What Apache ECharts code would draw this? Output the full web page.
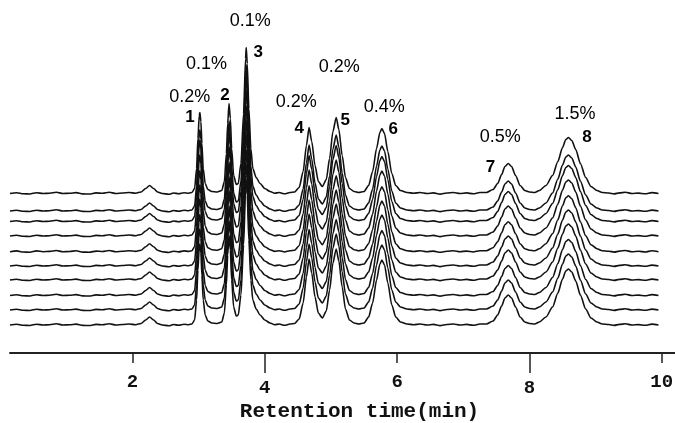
<!DOCTYPE html>
<html>
<head>
<meta charset="utf-8">
<script src="https://cdn.jsdelivr.net/npm/echarts@6/dist/echarts.min.js"></script>
<style>html,body{margin:0;padding:0;background:#fff}#c{width:675px;height:423px}</style>
</head>
<body>
<div id="c"></div>
<script>
// Chromatogram profile of one run: [retention time (min), signal above its baseline]
const profile = [
  [0.15,0],[0.25,0.8],[0.35,-0.3],[0.45,-0.5],[0.55,0.8],[0.65,0],[0.75,0.3],[0.85,1.2],[0.95,0],[1.05,0.2],
  [1.15,0.9],[1.25,-0.4],[1.35,-0.5],[1.45,0.6],[1.55,0.2],[1.65,1.2],[1.75,0],[1.85,0.5],[1.95,1],[2.05,0.3],
  [2.13,1.5],[2.2,5],[2.26,8],[2.32,5],[2.38,1.5],[2.45,0],
  [2.55,-0.8],[2.62,0.5],[2.7,-0.2],[2.78,0.8],[2.85,0.3],
  [2.90,1],[2.94,5],[2.97,25],[2.99,55],[3.01,78],[3.02,81],[3.035,72],[3.05,50],[3.07,25],[3.10,10],
  [3.14,4],[3.20,2],[3.28,1.5],[3.35,3],
  [3.39,12],[3.42,40],[3.44,70],[3.46,90],[3.48,75],[3.50,45],[3.53,18],[3.57,9],
  [3.60,10],[3.64,30],[3.68,80],[3.71,135],[3.72,146],[3.735,130],[3.76,85],[3.79,45],[3.82,25],
  [3.87,16],[3.93,10],[4.0,5],[4.08,2],[4.15,0.3],[4.22,1],[4.3,-0.3],[4.38,1],
  [4.45,1.5],[4.52,6],[4.58,22],[4.63,48],[4.67,66],[4.71,52],[4.76,28],[4.81,12],[4.87,7],
  [4.93,14],[4.98,35],[5.03,62],[5.08,76],[5.12,64],[5.17,38],[5.22,16],[5.28,5],[5.35,2],[5.42,1],
  [5.50,2],[5.57,8],[5.63,22],[5.69,45],[5.74,61],[5.77,65],[5.81,60],[5.86,42],[5.92,20],[5.98,8],
  [6.05,3],[6.15,1],[6.25,0.2],[6.35,1],[6.45,0],[6.55,0.6],[6.65,-0.6],[6.75,0.5],[6.85,1],[6.95,0],
  [7.05,0.6],[7.15,-0.3],[7.25,1],
  [7.35,1],[7.45,4],[7.52,10],[7.58,19],[7.63,27],[7.68,30],[7.73,27],[7.79,18],[7.86,8],[7.93,3],[8.0,1.5],
  [8.08,1],[8.15,3],[8.25,8],[8.35,18],[8.43,32],[8.5,46],[8.55,54],[8.59,56],[8.64,53],[8.7,44],
  [8.77,30],[8.85,16],[8.93,7],[9.02,3],[9.1,1],[9.2,0.5],[9.28,-0.4],[9.36,0.6],[9.45,1.2],[9.55,0],
  [9.65,0.4],[9.75,-0.3],[9.85,0.9],[9.95,0]
];
// Baseline of each of the 10 stacked runs (top to bottom)
const baselines = [159.5, 142, 131.5, 117, 101.3, 87, 73, 57.5, 43, 28];
// Tick labels
const ticksShort = [2, 6, 10];
const ticksLong = [4, 8];
// Peak annotations: [text, time, level]
const pctLabels = [
  ["0.2%",2.865,256],["0.1%",3.12,289],["0.1%",3.78,332],["0.2%",4.475,251],
  ["0.2%",5.125,286],["0.4%",5.805,246],["0.5%",7.56,216],["1.5%",8.69,239]
];
const peakLabels = [
  ["1",2.87,236],["2",3.40,258],["3",3.90,301],["4",4.52,225],
  ["5",5.215,233],["6",5.94,224],["7",7.41,186],["8",8.87,216]
];

const chart = echarts.init(document.getElementById('c'));
const traceSeries = baselines.map(b => ({
  type: 'line',
  xAxisIndex: 0,
  data: profile.map(p => [p[0], p[1] + b]),
  showSymbol: false,
  smooth: 0.25,
  smoothMonotone: 'x',
  lineStyle: { color: '#111', width: 1.6 },
  silent: true,
  animation: false
}));
const mono = '"Liberation Mono", "Courier New", monospace';
const sans = '"Liberation Sans", Arial, sans-serif';
function labelSeries(arr, font, size, weight) {
  return {
    type: 'scatter', xAxisIndex: 0, symbolSize: 0, silent: true, animation: false,
    itemStyle: { opacity: 1 },
    data: arr.map(a => ({ name: a[0], value: [a[1], a[2]] })),
    label: { show: true, position: 'inside', formatter: p => p.name, opacity: 1,
      color: '#000', fontFamily: font, fontSize: size, fontWeight: weight }
  };
}
const axisCommon = {
  type: 'value', min: 0.15, max: 10.2, position: 'bottom', splitLine: { show: false }
};
chart.setOption({
  animation: false,
  grid: { left: 10, right: 0, top: 0, bottom: 70, containLabel: false, outerBoundsMode: 'none' },
  xAxis: [
    Object.assign({}, axisCommon, {
      axisLine: { show: true, lineStyle: { color: '#222', width: 2 } },
      axisTick: { show: true, customValues: ticksShort, length: 10, inside: false, lineStyle: { color: '#222', width: 1.5 } },
      axisLabel: { customValues: ticksShort, margin: 20, color: '#111', fontFamily: mono, fontWeight: 'bold', fontSize: 19 },
      name: 'Retention time(min)', nameLocation: 'middle', nameGap: 48,
      nameTextStyle: { color: '#111', fontFamily: mono, fontWeight: 'bold', fontSize: 21, padding: [0, 0, 0, 34] }
    }),
    Object.assign({}, axisCommon, {
      axisLine: { show: false },
      axisTick: { show: true, customValues: ticksLong, length: 20, inside: false, lineStyle: { color: '#222', width: 1.5 } },
      axisLabel: { customValues: ticksLong, margin: 26, color: '#111', fontFamily: mono, fontWeight: 'bold', fontSize: 19 }
    })
  ],
  yAxis: { type: 'value', min: 0, max: 353, show: false },
  series: traceSeries.concat([
    labelSeries(pctLabels, sans, 18, 'normal'),
    labelSeries(peakLabels, sans, 17, 'bold')
  ])
});
</script>
</body>
</html>
